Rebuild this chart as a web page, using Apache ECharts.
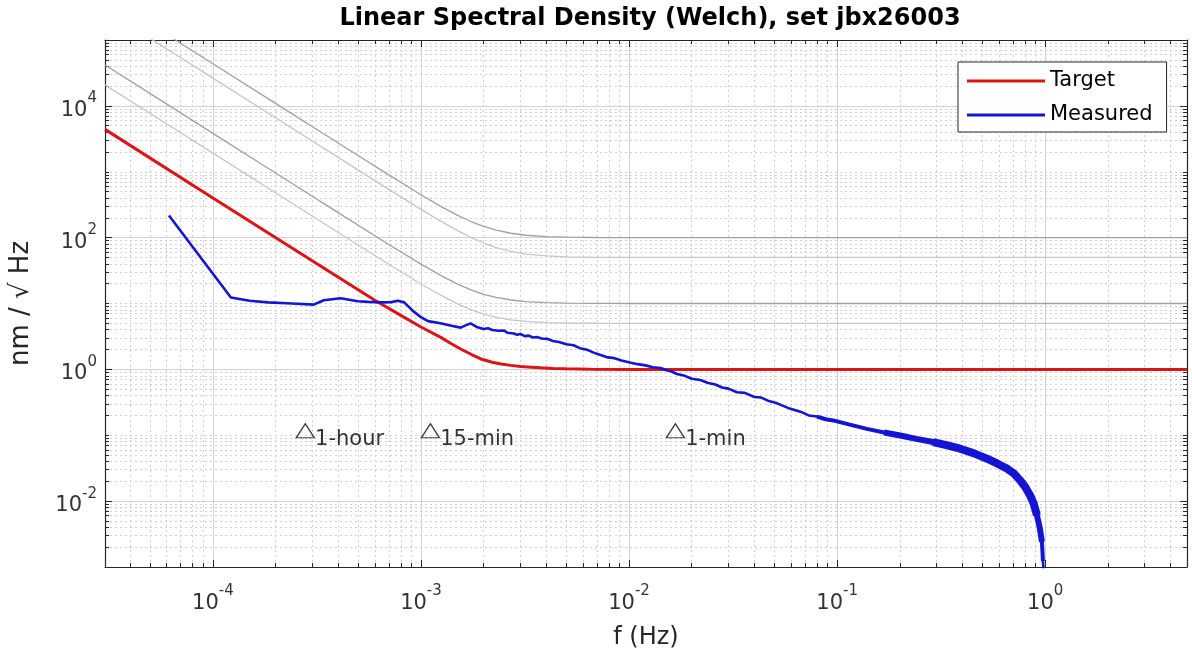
<!DOCTYPE html>
<html>
<head>
<meta charset="utf-8">
<script src="https://cdn.jsdelivr.net/npm/echarts@6/dist/echarts.min.js"></script>
<style>
html,body{margin:0;padding:0;background:#fff;}
#chart{width:1192px;height:660px;}
</style>
</head>
<body>
<div id="chart"></div>
<script>
// ---- axis ranges and ticks ----
const X_MIN = 3.03e-5, X_MAX = 4.8;
const Y_MIN = 1e-3, Y_MAX = 1e5;
const xMajorTicks = [1e-4, 1e-3, 1e-2, 1e-1, 1];
const yMajorTicks = [1e-2, 1, 1e2, 1e4];

// ---- Target (red) ----
const targetF = [3.03e-5, 1e-4, 3e-4, 6e-4, 8e-4, 1e-3, 1.245e-3, 1.4e-3, 1.55e-3, 1.75e-3, 1.94e-3, 2.2e-3, 2.42e-3, 2.7e-3, 3.01e-3, 3.4e-3, 3.76e-3, 4.3e-3, 5e-3, 6.5e-3, 1e-2, 4.8];
const targetV = [4400, 400, 44.5, 11.2, 6.6, 4.4, 3.06, 2.45, 2.04, 1.68, 1.44, 1.28, 1.21, 1.15, 1.11, 1.08, 1.055, 1.03, 1.018, 1.006, 1.0, 1.0];

// ---- grey reference curves ----
const greyF = [3.03e-5, 5e-5, 1e-4, 2e-4, 4e-4, 7e-4, 1e-3, 1.25e-3, 1.5e-3, 1.75e-3, 2e-3, 2.3e-3, 2.7e-3, 3.2e-3, 4e-3, 5e-3, 7e-3, 1e-2, 4.8];
const grey100 = [475000, 174400, 43600, 10900, 2727, 895, 447, 296, 218, 174, 148, 129.6, 116.5, 108.7, 103.6, 101.5, 100.4, 100.1, 100];
const grey50  = [287600, 105600, 26400, 6600, 1651, 541, 268.7, 176.2, 127.5, 99.6, 82.8, 70.6, 61.7, 56.3, 52.7, 51.1, 50.3, 50.07, 50];
const grey10  = [41720, 15320, 3830, 957.5, 239.6, 78.8, 39.6, 26.5, 19.7, 16.0, 13.8, 12.35, 11.3, 10.68, 10.28, 10.12, 10.03, 10, 10];
const grey5   = [20860, 7660, 1915, 478.8, 119.8, 39.4, 19.8, 13.25, 9.85, 8.0, 6.9, 6.18, 5.65, 5.34, 5.14, 5.06, 5.015, 5, 5];

// ---- Measured (blue) ----
const measF = [6.15e-5, 1.22e-4, 1.5e-4, 1.84e-4, 2.4e-4, 3.05e-4, 3.41e-4, 4.11e-4, 4.97e-4, 5.6e-4, 6.41e-4, 7.2e-4, 7.73e-4, 8.3e-4, 9.2e-4, 1.0e-3, 1.08e-3, 1.24e-3, 1.4e-3, 1.55e-3, 1.65e-3, 1.73e-3, 1.85e-3,
  2.0e-3, 2.1e-3, 2.2e-3, 2.36e-3, 2.5e-3, 2.6e-3, 2.79e-3, 2.9e-3, 3.0e-3, 3.15e-3, 3.3e-3, 3.45e-3, 3.6e-3, 3.8e-3, 4.06e-3, 4.3e-3, 4.6e-3, 5.0e-3, 5.41e-3, 5.8e-3, 6.3e-3, 6.8e-3, 7.3e-3, 7.9e-3, 8.5e-3, 9.2e-3,
  1.02e-2, 1.1e-2, 1.2e-2, 1.3e-2, 1.42e-2, 1.5e-2, 1.6e-2, 1.7e-2, 1.83e-2, 2.0e-2, 2.2e-2, 2.4e-2, 2.6e-2, 2.8e-2, 3.0e-2, 3.3e-2, 3.6e-2, 4.0e-2, 4.3e-2, 4.7e-2, 5.15e-2, 5.8e-2, 6.66e-2, 7.3e-2, 8e-2, 8.8e-2, 9.57e-2,
  0.115, 0.139, 0.168, 0.201, 0.24, 0.289, 0.335, 0.39, 0.455, 0.525, 0.59, 0.656, 0.71, 0.757, 0.8, 0.845, 0.88, 0.912, 0.94, 0.964, 0.975, 0.99];
const measV = [217, 12.3, 11.0, 10.4, 10.0, 9.6, 11.2, 12.0, 10.8, 10.6, 10.4, 10.5, 11.0, 10.4, 7.6, 6.2, 5.4, 5.0, 4.6, 4.3, 4.7, 5.0, 4.4,
  4.1, 4.2, 3.95, 3.85, 3.9, 3.6, 3.5, 3.35, 3.45, 3.2, 3.25, 3.05, 3.1, 2.95, 2.9, 2.7, 2.6, 2.4, 2.32, 2.1, 1.98, 1.78, 1.65, 1.52, 1.48, 1.36,
  1.26, 1.2, 1.15, 1.08, 1.05, 0.98, 0.93, 0.85, 0.81, 0.72, 0.69, 0.62, 0.59, 0.53, 0.51, 0.45, 0.44, 0.38, 0.375, 0.33, 0.305, 0.26, 0.228, 0.2, 0.192, 0.175, 0.168,
  0.145, 0.125, 0.11, 0.099, 0.088, 0.0788, 0.071, 0.0625, 0.053, 0.0441, 0.037, 0.0311, 0.026, 0.0207, 0.0165, 0.0123, 0.0092, 0.0061, 0.0040, 0.00242, 0.00123, 0.0006];

// ---- period markers ----
const markerNames = ['1-hour', '15-min', '1-min'];
const markerF = [2.78e-4, 1.11e-3, 1.67e-2];
const markerV = [0.117, 0.117, 0.117];

// minor tick positions (2..9 x decade, plus un-labelled decades)
function minorTicks(lo, hi, majors) {
  const out = [];
  for (let e = -6; e <= 6; e++) {
    for (let m = 1; m <= 9; m++) {
      const v = +(m * Math.pow(10, e)).toPrecision(6);
      if (v > lo * 1.0001 && v < hi * 0.9999 && majors.indexOf(v) < 0) out.push(v);
    }
  }
  return out;
}
const xMinorTicks = minorTicks(X_MIN, X_MAX, xMajorTicks);
const yMinorTicks = minorTicks(Y_MIN, Y_MAX, yMajorTicks);

const zip = (a, b) => a.map((v, i) => [v, b[i]]);

const AX = '#262626';
const FONT = 'DejaVu Sans';
const labelRich = {
  b: { fontSize: 21, color: '#333', fontFamily: FONT, lineHeight: 30, verticalAlign: 'bottom' },
  s: { fontSize: 15, color: '#333', fontFamily: FONT, lineHeight: 30, verticalAlign: 'top' }
};
function powFmt(v) {
  const e = Math.round(Math.log10(v));
  return '{b|10}{s|' + e + '}';
}

function axisDef(dim, pos, ticks, len, opts) {
  const isX = dim === 'x';
  const base = {
    type: 'log', logBase: 10,
    min: isX ? X_MIN : Y_MIN, max: isX ? X_MAX : Y_MAX,
    position: pos,
    axisLine: { show: !!opts.line, onZero: false, lineStyle: { color: AX, width: 1.2 } },
    axisTick: { show: true, inside: true, length: len, customValues: ticks, lineStyle: { color: AX, width: 1 } },
    axisLabel: opts.label ? { show: true, customValues: ticks, formatter: powFmt, rich: labelRich, margin: opts.margin } : { show: false },
    splitLine: opts.split ? { show: true, lineStyle: opts.split } : { show: false },
    minorTick: { show: false }, minorSplitLine: { show: false }
  };
  return Object.assign(base, opts.extra || {});
}

const majorSplit = { color: '#d2d2d2', width: 1, type: 'solid' };
const minorSplit = { color: '#d0d0d0', width: 1, type: [2, 3] };

const xAxes = [
  axisDef('x', 'bottom', xMajorTicks, 7, { line: true, label: true, split: majorSplit, margin: 17,
    extra: { name: 'f (Hz)', nameLocation: 'middle', nameGap: 59, nameTextStyle: { fontSize: 24, color: '#262626', fontFamily: FONT } } }),
  axisDef('x', 'bottom', xMinorTicks, 4, { split: minorSplit }),
  axisDef('x', 'top', xMajorTicks, 7, { line: true }),
  axisDef('x', 'top', xMinorTicks, 4, {})
];
const yAxes = [
  axisDef('y', 'left', yMajorTicks, 7, { line: true, label: true, split: majorSplit, margin: 8,
    extra: { name: 'nm / \u221A Hz', nameLocation: 'middle', nameGap: 71, nameRotate: 90, nameTextStyle: { fontSize: 26, color: '#262626', fontFamily: FONT } } }),
  axisDef('y', 'left', yMinorTicks, 4, { split: minorSplit }),
  axisDef('y', 'right', yMajorTicks, 7, { line: true }),
  axisDef('y', 'right', yMinorTicks, 4, {})
];

function greySeries(name, vals, color) {
  return { name: name, type: 'line', data: zip(greyF, vals), showSymbol: false, symbol: 'none', silent: true,
    lineStyle: { color: color, width: 1.3 }, z: 3, animation: false };
}

const measData = zip(measF, measV);
const BLUE = '#1414d2';
const option = {
  animation: false,
  backgroundColor: '#fff',
  title: {
    text: 'Linear Spectral Density (Welch), set jbx26003',
    left: 645, top: 2, textAlign: 'center',
    textStyle: { fontSize: 24, fontWeight: 'bold', color: '#000', fontFamily: FONT }
  },
  grid: { left: 104, right: 5, top: 40, bottom: 93, containLabel: false },
  legend: {
    data: ['Target', 'Measured'], orient: 'vertical', left: 958, top: 62,
    icon: 'rect', itemWidth: 78, itemHeight: 3, itemGap: 8,
    padding: [6, 14, 4, 9], borderColor: AX, borderWidth: 1, backgroundColor: '#fff',
    textStyle: { fontSize: 21, color: '#000', fontFamily: FONT, lineHeight: 26 },
    selectedMode: false, z: 20
  },
  xAxis: xAxes,
  yAxis: yAxes,
  series: [
    greySeries('g100', grey100, '#a0a0a0'),
    greySeries('g50', grey50, '#c6c6c6'),
    greySeries('g10', grey10, '#a0a0a0'),
    greySeries('g5', grey5, '#c6c6c6'),
    { name: 'Target', type: 'line', data: zip(targetF, targetV), symbol: 'none', showSymbol: false,
      lineStyle: { color: '#dc1418', width: 3 }, itemStyle: { color: '#dc1418' }, z: 5 },
    { name: 'Measured', type: 'line', data: measData, symbol: 'none', showSymbol: false,
      lineStyle: { color: BLUE, width: 2.6 }, itemStyle: { color: BLUE }, z: 6 },
    { name: 'measBand1', type: 'line', data: measData.filter(p => p[0] >= 0.08 && p[0] <= 0.975), symbol: 'none',
      lineStyle: { color: BLUE, width: 4 }, z: 6, silent: true },
    { name: 'measBand2', type: 'line', data: measData.filter(p => p[0] >= 0.168 && p[0] <= 0.964), symbol: 'none',
      lineStyle: { color: BLUE, width: 6 }, z: 6, silent: true },
    { name: 'measBand3', type: 'line', data: measData.filter(p => p[0] >= 0.289 && p[0] <= 0.912), symbol: 'none',
      lineStyle: { color: BLUE, width: 8 }, z: 6, silent: true },
    { name: 'markers', type: 'scatter', data: markerF.map((f, i) => ({ value: [f, markerV[i]], name: markerNames[i] })),
      symbol: 'triangle', symbolSize: [18, 14], z: 7, silent: true, clip: false,
      itemStyle: { color: 'rgba(0,0,0,0)', borderColor: '#111', borderWidth: 1.3 },
      label: { show: true, position: 'right', distance: 0, formatter: p => p.name, offset: [0, 9],
        fontSize: 21, color: '#000', fontFamily: FONT } }
  ]
};

const chart = echarts.init(document.getElementById('chart'), null, { renderer: 'canvas' });
chart.setOption(option);
</script>
</body>
</html>
